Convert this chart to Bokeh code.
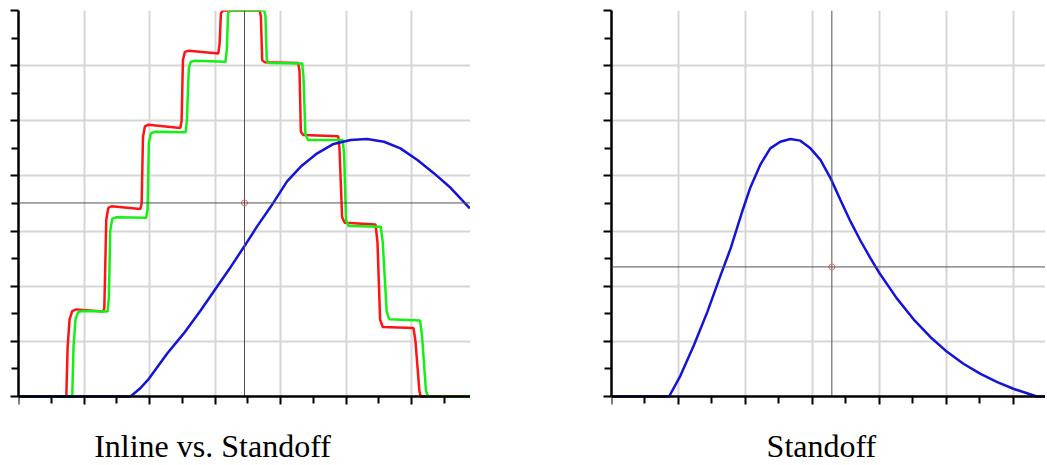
from bokeh.plotting import figure
from bokeh.layouts import row
from bokeh.models import FixedTicker, Span, BoxAnnotation, Range1d
from bokeh.core.properties import value
from bokeh.embed import file_html
from bokeh.resources import INLINE

# ---------------- data ----------------
# Left panel: Inline vs. Standoff
inline_red_x = [0, 0.73, 0.75, 0.78, 0.82, 0.88, 1.29, 1.31, 1.34, 1.37, 1.42, 1.86, 1.88, 1.90,
                1.93, 1.98, 2.47, 2.49, 2.51, 2.54, 2.60, 3.05, 3.07, 3.09, 3.12, 3.68, 3.70,
                3.72, 3.76, 4.27, 4.29, 4.31, 4.35, 4.88, 4.90, 4.94, 4.98, 5.45, 5.48, 5.52,
                5.56, 6.03, 6.06, 6.12, 6.14, 6.90]
inline_red_y = [0, 0, 0.9, 1.4, 1.55, 1.58, 1.54, 1.6, 3.2, 3.42, 3.45, 3.40, 3.5, 4.7,
                4.9, 4.93, 4.87, 5.0, 6.1, 6.25, 6.27, 6.22, 6.4, 6.95, 7.0, 7.0, 6.9,
                6.1, 6.06, 6.05, 5.9, 4.8, 4.74, 4.72, 4.5, 3.25, 3.15, 3.12, 2.8, 1.4,
                1.26, 1.24, 1.0, 0.1, 0, 0]

inline_green_x = [0, 0.82, 0.84, 0.87, 0.91, 0.97, 1.36, 1.38, 1.40, 1.43, 1.49, 1.95, 1.97,
                  1.99, 2.02, 2.08, 2.55, 2.57, 2.60, 2.63, 2.70, 3.16, 3.18, 3.20, 3.23,
                  3.75, 3.77, 3.79, 3.82, 4.33, 4.35, 4.38, 4.42, 4.95, 4.97, 5.00, 5.04,
                  5.53, 5.56, 5.62, 5.66, 6.13, 6.16, 6.22, 6.25, 6.90]
inline_green_y = [0, 0, 0.9, 1.4, 1.53, 1.55, 1.54, 1.8, 3.0, 3.22, 3.25, 3.24, 3.4,
                  4.6, 4.77, 4.80, 4.79, 5.0, 5.95, 6.07, 6.09, 6.07, 6.3, 6.95, 7.0,
                  7.0, 6.9, 6.1, 6.05, 6.04, 5.8, 4.75, 4.65, 4.65, 4.4, 3.2, 3.09,
                  3.08, 2.8, 1.55, 1.40, 1.38, 1.1, 0.1, 0, 0]

standoff_a_x = [0, 1.71, 1.85, 1.99, 2.27, 2.52, 2.78, 3.03, 3.24, 3.44, 3.64, 3.85, 4.10,
                4.31, 4.56, 4.81, 5.07, 5.32, 5.58, 5.83, 6.09, 6.34, 6.60, 6.89]
standoff_a_y = [0, 0, 0.14, 0.32, 0.78, 1.14, 1.56, 1.99, 2.35, 2.71, 3.08, 3.44, 3.90,
                4.17, 4.41, 4.58, 4.65, 4.67, 4.62, 4.50, 4.29, 4.05, 3.78, 3.41]

# Right panel: Standoff
standoff_b_x = [0, 0.86, 1.03, 1.23, 1.43, 1.63, 1.78, 1.95, 2.07, 2.22, 2.37, 2.52, 2.67,
                2.82, 2.97, 3.12, 3.27, 3.42, 3.57, 3.72, 3.87, 4.01, 4.26, 4.51, 4.76,
                5.01, 5.26, 5.51, 5.76, 6.00, 6.25, 6.35, 6.48]
standoff_b_y = [0, 0, 0.38, 0.93, 1.53, 2.20, 2.69, 3.35, 3.78, 4.20, 4.50, 4.62, 4.67,
                4.64, 4.50, 4.29, 3.96, 3.56, 3.17, 2.82, 2.50, 2.22, 1.78, 1.40, 1.08,
                0.81, 0.59, 0.41, 0.26, 0.14, 0.04, 0, 0]

# cursor (crosshair) positions
cursor_left = (3.45, 3.51)
cursor_right = (3.29, 2.35)

titles = ["Inline vs. Standoff", "Standoff"]

x_major = [0, 1, 2, 3, 4, 5, 6]
x_minor = [0.5, 1.5, 2.5, 3.5, 4.5, 5.5, 6.5]
y_major = [0, 1, 2, 3, 4, 5, 6, 7]
y_minor = [0.5, 1.5, 2.5, 3.5, 4.5, 5.5, 6.5]

Y_LO, Y_HI = 0, 7

RED = "#ff1414"
GREEN = "#14f014"
BLUE = "#1414d8"

# ---------------- layout ----------------
PX_PER_Y = 386 / 7.0           # vertical scale of the plot area
CAPTION_SPACE = 69             # pixels below the x axis (caption lives here)
Y_BOTTOM = -CAPTION_SPACE / PX_PER_Y
CAPTION_BASELINE_PX = 49       # caption anchor, pixels below the x axis


def make_fig(width, border_left, xmax, title, title_center_px, px_per_x):
    p = figure(width=width, height=465, x_range=Range1d(0, xmax),
               y_range=Range1d(Y_BOTTOM, Y_HI),
               output_backend="svg", toolbar_location=None,
               min_border_left=border_left, min_border_right=0,
               min_border_top=10, min_border_bottom=0)
    p.outline_line_color = None
    p.background_fill_color = "white"
    p.border_fill_color = "white"
    p.xaxis.ticker = FixedTicker(ticks=x_major, minor_ticks=x_minor)
    p.yaxis.ticker = FixedTicker(ticks=y_major, minor_ticks=y_minor)
    p.xaxis.fixed_location = Y_LO
    p.yaxis.bounds = (Y_LO, Y_HI)
    for ax in (p.xaxis, p.yaxis):
        ax.axis_line_width = 2.5
        ax.axis_line_color = "black"
        ax.major_tick_in = 0
        ax.major_tick_out = 8
        ax.minor_tick_in = 0
        ax.minor_tick_out = 7
        ax.major_tick_line_width = 2
        ax.minor_tick_line_width = 2
        ax.major_tick_line_color = "black"
        ax.minor_tick_line_color = "black"
        ax.major_label_text_font_size = "1px"
        ax.major_label_text_color = None
        ax.major_label_standoff = 0
    for g in (p.xgrid, p.ygrid):
        g.grid_line_color = "#d6d6d6"
        g.grid_line_width = 2
    # blank caption strip under the x axis (hides the vertical grid there)
    p.add_layout(BoxAnnotation(top=Y_LO, fill_color="white", fill_alpha=1.0,
                               line_color=None, level="underlay"))
    p.text(x=[title_center_px / px_per_x], y=[Y_LO - CAPTION_BASELINE_PX / PX_PER_Y],
           text=[title], text_font=value("Liberation Serif"),
           text_font_size=value("32px"), text_color="black",
           text_align="center", text_baseline="alphabetic")
    return p


def crosshair(p, cx, cy):
    p.segment(x0=[cx], y0=[Y_LO], x1=[cx], y1=[Y_HI], line_color="#505050", line_width=1)
    p.add_layout(Span(location=cy, dimension="width", line_color="#505050", line_width=1))
    p.scatter([cx], [cy], marker="circle", size=6,
              fill_color=None, line_color="#e07070", line_width=1)


p1 = make_fig(470, 18, 6.90, titles[0], 194, 65.5)
p1.line(inline_red_x, inline_red_y, line_color=RED, line_width=2.5)
p1.line(inline_green_x, inline_green_y, line_color=GREEN, line_width=2.5)
p1.line(standoff_a_x, standoff_a_y, line_color=BLUE, line_width=2.5)
crosshair(p1, *cursor_left)

p2 = make_fig(575, 141, 6.48, titles[1], 210, 67.0)
p2.line(standoff_b_x, standoff_b_y, line_color=BLUE, line_width=2.5)
crosshair(p2, *cursor_right)

layout = row(p1, p2)
open("out.html", "w").write(file_html(layout, INLINE))
